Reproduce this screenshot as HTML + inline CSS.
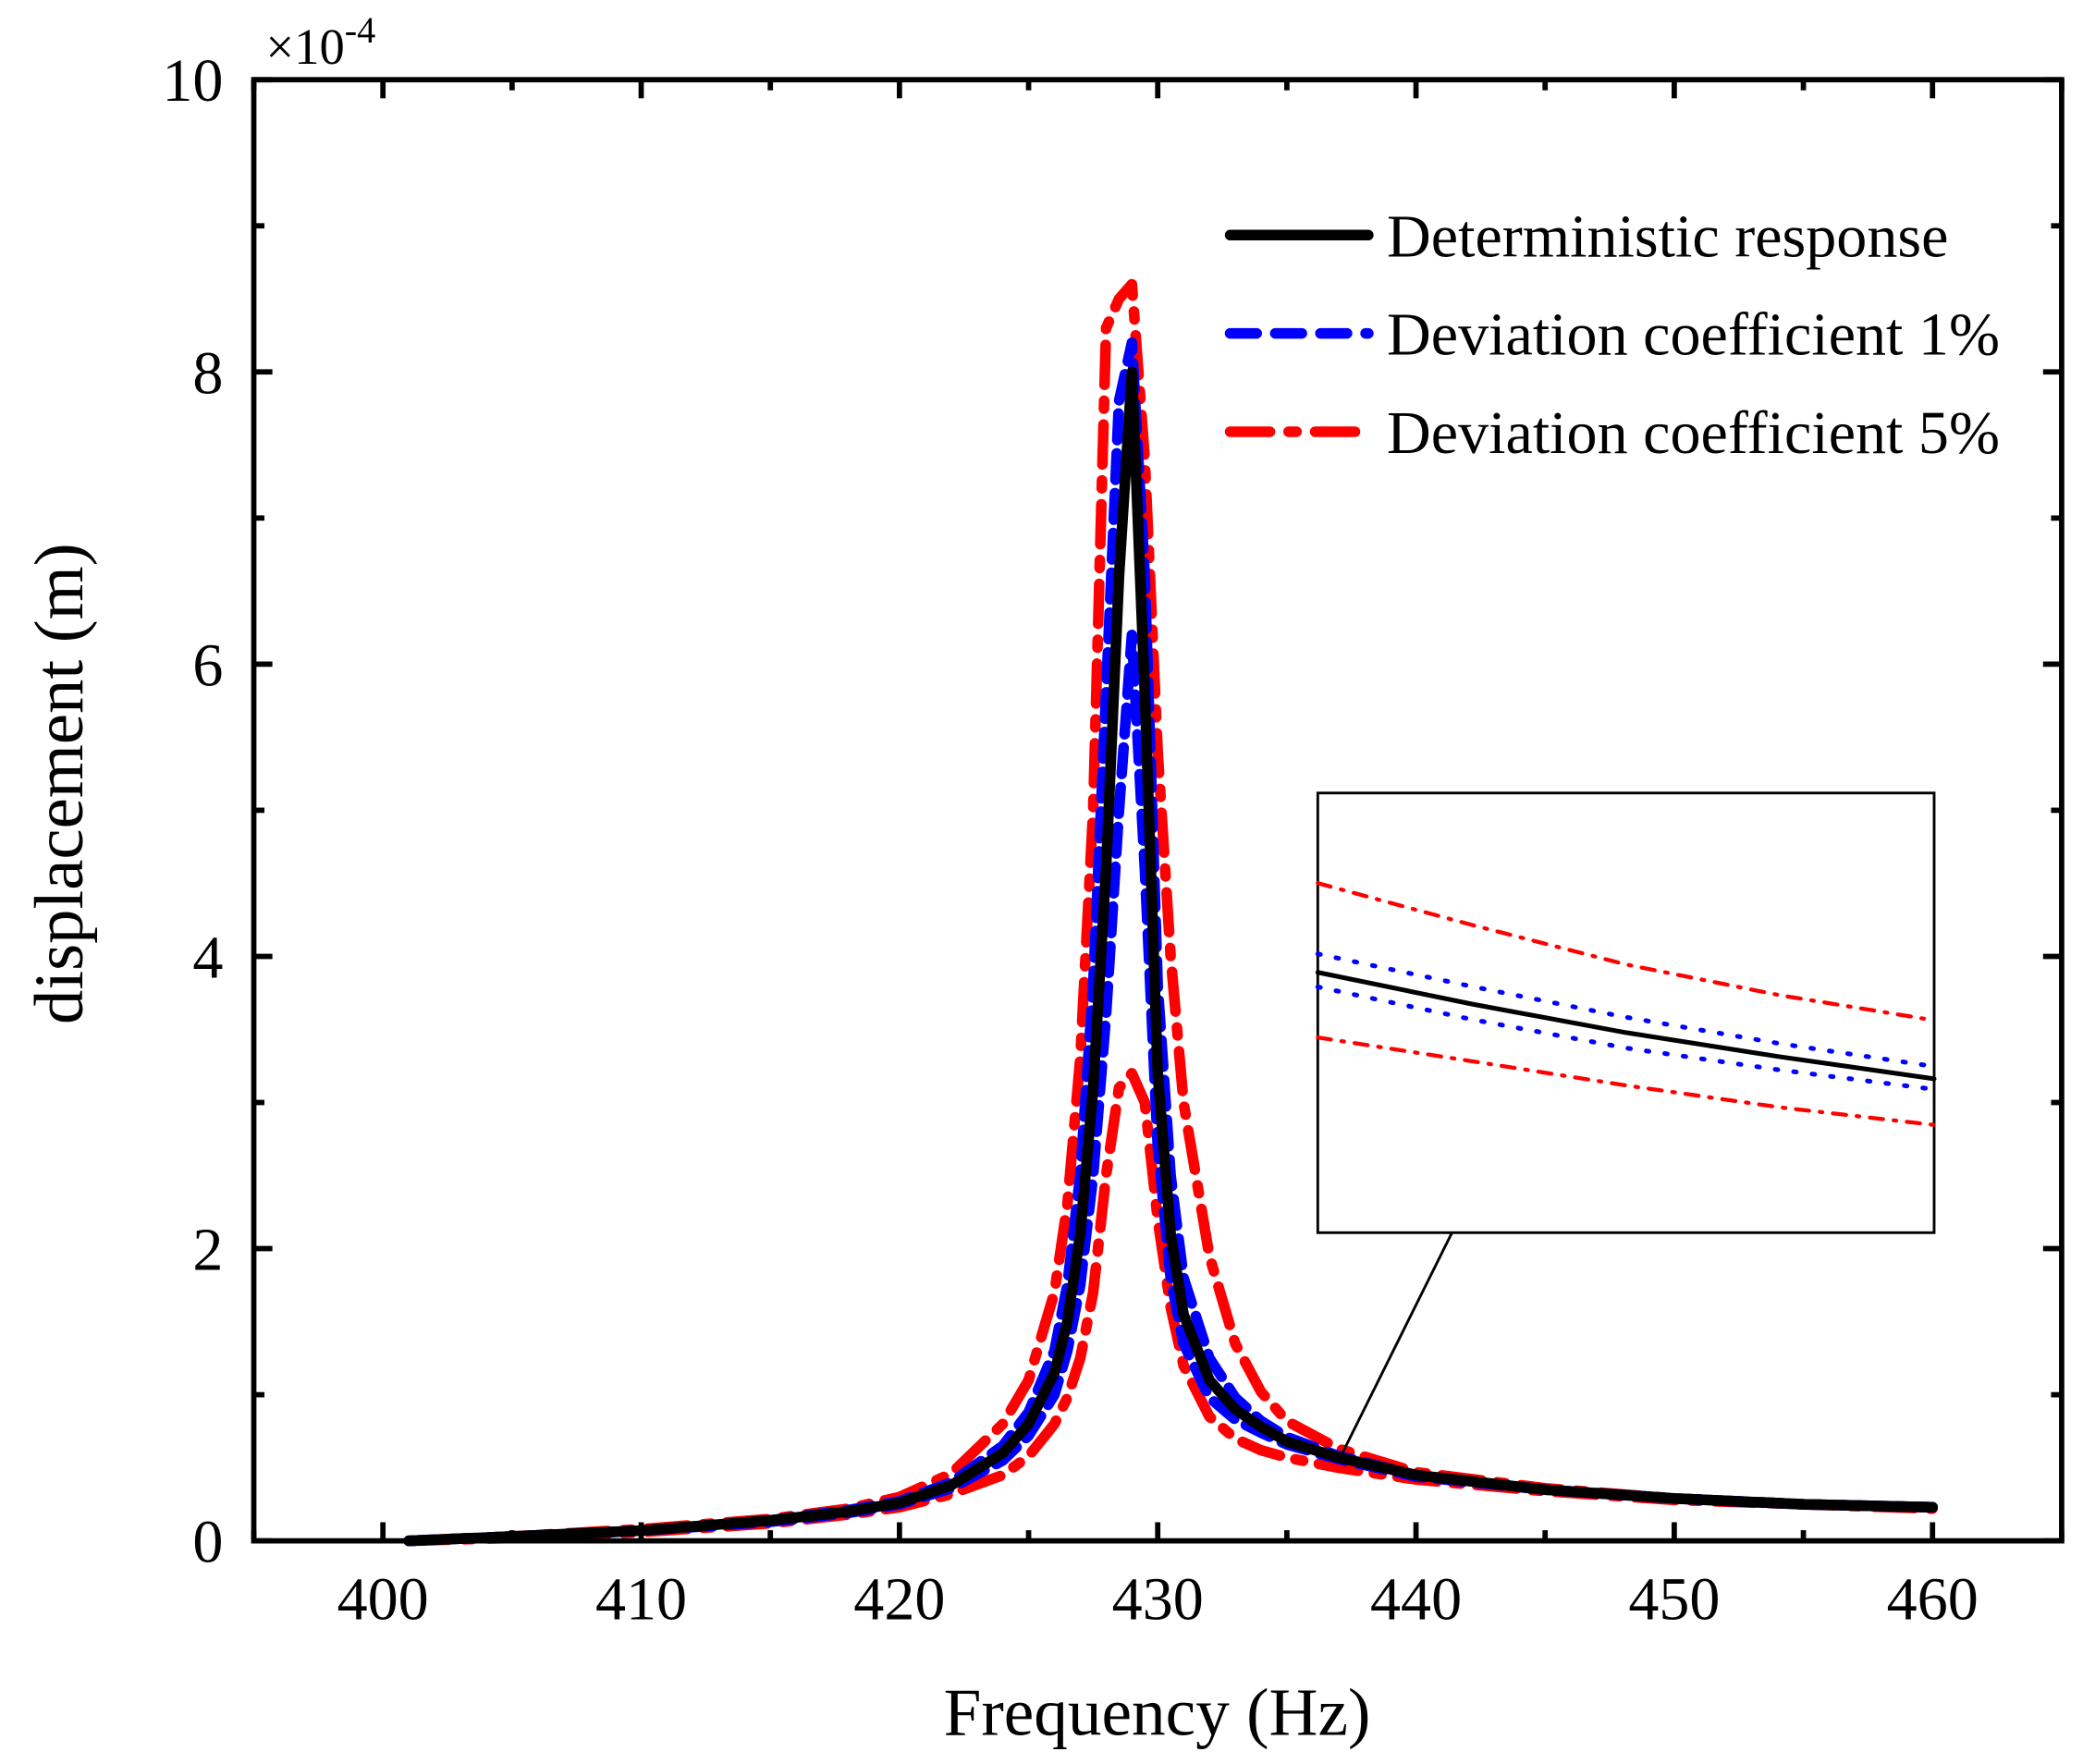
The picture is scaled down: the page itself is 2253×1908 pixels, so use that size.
<!DOCTYPE html>
<html><head><meta charset="utf-8"><style>
html,body{margin:0;padding:0;background:#fff;}
svg{display:block;font-family:"Liberation Serif",serif;}
</style></head><body>
<svg id="chart" width="2253" height="1908" viewBox="0 0 1568 1328" xmlns="http://www.w3.org/2000/svg">
<g id="grid"></g>
<g id="series"></g>
<g id="inset"></g>
<g id="axes"></g>
<g id="legend"></g>
</svg>
<script>
const freqs = [401,405,410,415,418,420,422,424,425,426,426.5,427,427.5,428,428.5,429,429.5,430,430.5,431,432,433,434,435,437,440,445,450,455,460];
const detValues = [0,0.03,0.07,0.14,0.2,0.26,0.38,0.6,0.8,1.15,1.5,2.1,3.1,4.6,6.6,8.0,5.8,3.2,2.1,1.55,1.1,0.9,0.78,0.68,0.57,0.45,0.35,0.29,0.25,0.23];
const blueUpper = [0,0.03,0.07,0.14,0.21,0.27,0.4,0.65,0.88,1.3,1.75,2.5,3.8,5.8,7.8,8.2,6.6,3.8,2.5,1.8,1.25,0.98,0.82,0.71,0.58,0.45,0.35,0.29,0.25,0.23];
const blueLower = [0,0.03,0.07,0.13,0.19,0.25,0.36,0.55,0.72,1.0,1.3,1.75,2.5,3.6,5.0,6.2,4.6,2.7,1.8,1.35,0.98,0.83,0.74,0.66,0.56,0.44,0.35,0.29,0.25,0.23];
const redUpper = [0,0.03,0.08,0.15,0.22,0.3,0.46,0.8,1.1,1.7,2.3,3.3,5.0,8.3,8.5,8.6,7.4,5.4,4.0,3.0,1.95,1.35,1.02,0.82,0.63,0.47,0.36,0.29,0.25,0.23];
const redLower = [0,0.02,0.06,0.12,0.18,0.23,0.32,0.45,0.58,0.8,0.98,1.25,1.7,2.5,3.1,3.2,3.0,2.2,1.6,1.2,0.85,0.7,0.62,0.57,0.5,0.42,0.34,0.28,0.25,0.22];
const xTicks = [400,410,420,430,440,450,460];
const yTicks = [0,2,4,6,8,10];
const insetX = [0,2.5,5,7.5,10];
const insetRedUpper = [7.95,7.0,6.1,5.4,4.83];
const insetBlueUpper = [6.34,5.6,4.9,4.3,3.78];
const insetDet = [5.92,5.2,4.55,4.0,3.5];
const insetBlueLower = [5.59,4.85,4.2,3.7,3.26];
const insetRedLower = [4.44,3.9,3.35,2.85,2.45];

const NS="http://www.w3.org/2000/svg";
const L=191,R=1552,T=60,B=1160;
const xMin=395,xMax=465,yMin=0,yMax=10;
const xs=v=>L+(v-xMin)/(xMax-xMin)*(R-L);
const ys=v=>B-(v-yMin)/(yMax-yMin)*(B-T);
function mk(tag,attrs,parent){const e=document.createElementNS(NS,tag);for(const k in attrs)e.setAttribute(k,attrs[k]);parent.appendChild(e);return e;}
const gS=document.getElementById('series'),gA=document.getElementById('axes'),gL=document.getElementById('legend'),gI=document.getElementById('inset');

function path(xv,yv,fx,fy){return xv.map((x,i)=>(i?'L':'M')+fx(x).toFixed(2)+' '+fy(yv[i]).toFixed(2)).join(' ');}
const styles={
 redU:{stroke:'#ff0000',w:8,dash:'30 12 6 12'},
 blue:{stroke:'#0000ff',w:8,dash:'20 10'},
 det:{stroke:'#000',w:8,dash:''}
};
function drawSeries(vals,st,name){
 const p=mk('path',{d:path(freqs,vals,xs,ys),fill:'none',stroke:st.stroke,'stroke-width':st.w,'stroke-dasharray':st.dash,'stroke-linejoin':'round','stroke-linecap':'round'},gS);
 
 
}
drawSeries(redUpper,styles.redU,'series-deviation-5-upper');
drawSeries(redLower,styles.redU,'series-deviation-5-lower');
drawSeries(blueUpper,styles.blue,'series-deviation-1-upper');
drawSeries(blueLower,styles.blue,'series-deviation-1-lower');
drawSeries(detValues,styles.det,'series-deterministic');

// inset
const IL=992,IR=1456,IT=597,IB=928;
const ixs=v=>IL+v/10*(IR-IL);
const iys=v=>IB-v/10*(IB-IT);
const conn=mk('line',{x1:1093,y1:928,x2:1010,y2:1095,stroke:'#000','stroke-width':2},gI);


const box=mk('rect',{x:IL,y:IT,width:IR-IL,height:IB-IT,fill:'#fff',stroke:'#000','stroke-width':2},gI);


function drawInset(vals,stroke,dash,w,name){
 const p=mk('path',{d:path(insetX,vals,ixs,iys),fill:'none',stroke:stroke,'stroke-width':w,'stroke-dasharray':dash,'stroke-linecap':'round'},gI);
 
 
}
drawInset(insetRedUpper,'#ff0000','10 8 2 8',3,'inset-deviation-5-upper');
drawInset(insetRedLower,'#ff0000','10 8 2 8',3,'inset-deviation-5-lower');
drawInset(insetBlueUpper,'#0000ff','2 12',3.5,'inset-deviation-1-upper');
drawInset(insetBlueLower,'#0000ff','2 12',3.5,'inset-deviation-1-lower');
drawInset(insetDet,'#000','',3.5,'inset-deterministic');

// axes frame
const fr=mk('rect',{x:L,y:T,width:R-L,height:B-T,fill:'none',stroke:'#000','stroke-width':4},gA);


for(let v=395;v<=465;v+=5){
 const x=xs(v);const major=(v%10===0);const len=major?14:8;
 mk('line',{x1:x,y1:B,x2:x,y2:B-len,stroke:'#000','stroke-width':4},gA);
 mk('line',{x1:x,y1:T,x2:x,y2:T+len,stroke:'#000','stroke-width':4},gA);
}
for(let v=0;v<=10;v+=1){
 const y=ys(v);const major=(v%2===0);const len=major?14:8;
 mk('line',{x1:L,y1:y,x2:L+len,y2:y,stroke:'#000','stroke-width':4},gA);
 mk('line',{x1:R,y1:y,x2:R-len,y2:y,stroke:'#000','stroke-width':4},gA);
}
xTicks.forEach(v=>{
 const t=mk('text',{x:xs(v),y:1219,'text-anchor':'middle','font-size':46},gA);t.textContent=v;
 
 
});
yTicks.forEach(v=>{
 const t=mk('text',{x:168,y:ys(v)+16,'text-anchor':'end','font-size':46},gA);t.textContent=v;
 
 
});
const sc=mk('text',{x:200,y:48,'font-size':38},gA);sc.innerHTML='×10<tspan dy="-16" font-size="28">-4</tspan>';


const xt=mk('text',{x:871,y:1306,'text-anchor':'middle','font-size':51},gA);xt.textContent='Frequency (Hz)';


const yt=mk('text',{x:0,y:0,'text-anchor':'middle','font-size':52,transform:'translate(62,590) rotate(-90)'},gA);yt.textContent='displacement (m)';



// legend
const leg=[['Deterministic response','#000','',177],['Deviation coefficient 1%','#0000ff','20 14',251],['Deviation coefficient 5%','#ff0000','30 14 6 14',325]];
leg.forEach((e,i)=>{
 const g=mk('g',{},gL);
 
 
 mk('line',{x1:926,y1:e[3],x2:1030,y2:e[3],stroke:e[1],'stroke-width':8,'stroke-dasharray':e[2],'stroke-linecap':'round'},g);
 const t=mk('text',{x:1044,y:e[3]+16,'font-size':46},g);t.textContent=e[0];
});
</script>
</body></html>
